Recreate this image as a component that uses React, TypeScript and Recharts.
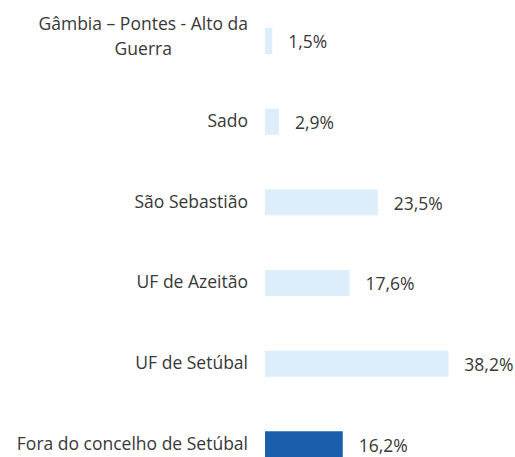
import React from 'react';
import { BarChart, Bar, XAxis, YAxis, Cell, LabelList } from 'recharts';

const categories = [
  'Gâmbia – Pontes - Alto da|Guerra',
  'Sado',
  'São Sebastião',
  'UF de Azeitão',
  'UF de Setúbal',
  'Fora do concelho de Setúbal',
];
const values = [1.5, 2.9, 23.5, 17.6, 38.2, 16.2];
const highlight = [false, false, false, false, false, true];

const FONT = '"Open Sans", sans-serif';
const FS = 17.5;
const TEXT = '#383838';

const data = categories.map((c, i) => ({ name: c, value: values[i], hi: highlight[i] }));

const measure = (s: string) => {
  const ctx = document.createElement('canvas').getContext('2d');
  if (!ctx) return s.length * 9;
  ctx.font = `${FS}px ${FONT}`;
  return ctx.measureText(s).width;
};

const CategoryTick = ({ x, y, payload }: any) => {
  const lines: string[] = String(payload.value).split('|');
  const right = x - 9;
  if (lines.length === 1) {
    return (
      <text x={right} y={y} dy={5} textAnchor="end" fill={TEXT} fontSize={FS} fontFamily={FONT}>
        {lines[0]}
      </text>
    );
  }
  const w = measure(lines[0]);
  const cx = right - w / 2;
  return (
    <text x={cx} y={y} textAnchor="middle" fill={TEXT} fontSize={FS} fontFamily={FONT}>
      {lines.map((l, i) => (
        <tspan key={i} x={cx} dy={i === 0 ? -11 : 25}>{l}</tspan>
      ))}
    </text>
  );
};

export default function App() {
  return (
    <div style={{ position: 'absolute', left: 0, top: 0, width: 515, height: 457, overflow: 'hidden', background: '#fff' }}>
      <BarChart
        width={515}
        height={485}
        data={data}
        layout="vertical"
        margin={{ top: 1, right: 10, bottom: 0, left: 0 }}
        barSize={26}
      >
        <XAxis type="number" domain={[0, 50]} hide />
        <YAxis
          type="category"
          dataKey="name"
          width={265}
          axisLine={false}
          tickLine={false}
          tick={<CategoryTick />}
          interval={0}
        />
        <Bar dataKey="value" isAnimationActive={false}>
          {data.map((d, i) => (
            <Cell key={i} fill={d.hi ? '#1b5fac' : '#dcEEf9'} />
          ))}
          <LabelList
            dataKey="value"
            position="right"
            offset={16}
            formatter={(v: any) => `${String(v).replace('.', ',')}%`}
            style={{ fill: TEXT, fontSize: FS, fontFamily: FONT }}
            dy={1}
          />
        </Bar>
      </BarChart>
    </div>
  );
}
